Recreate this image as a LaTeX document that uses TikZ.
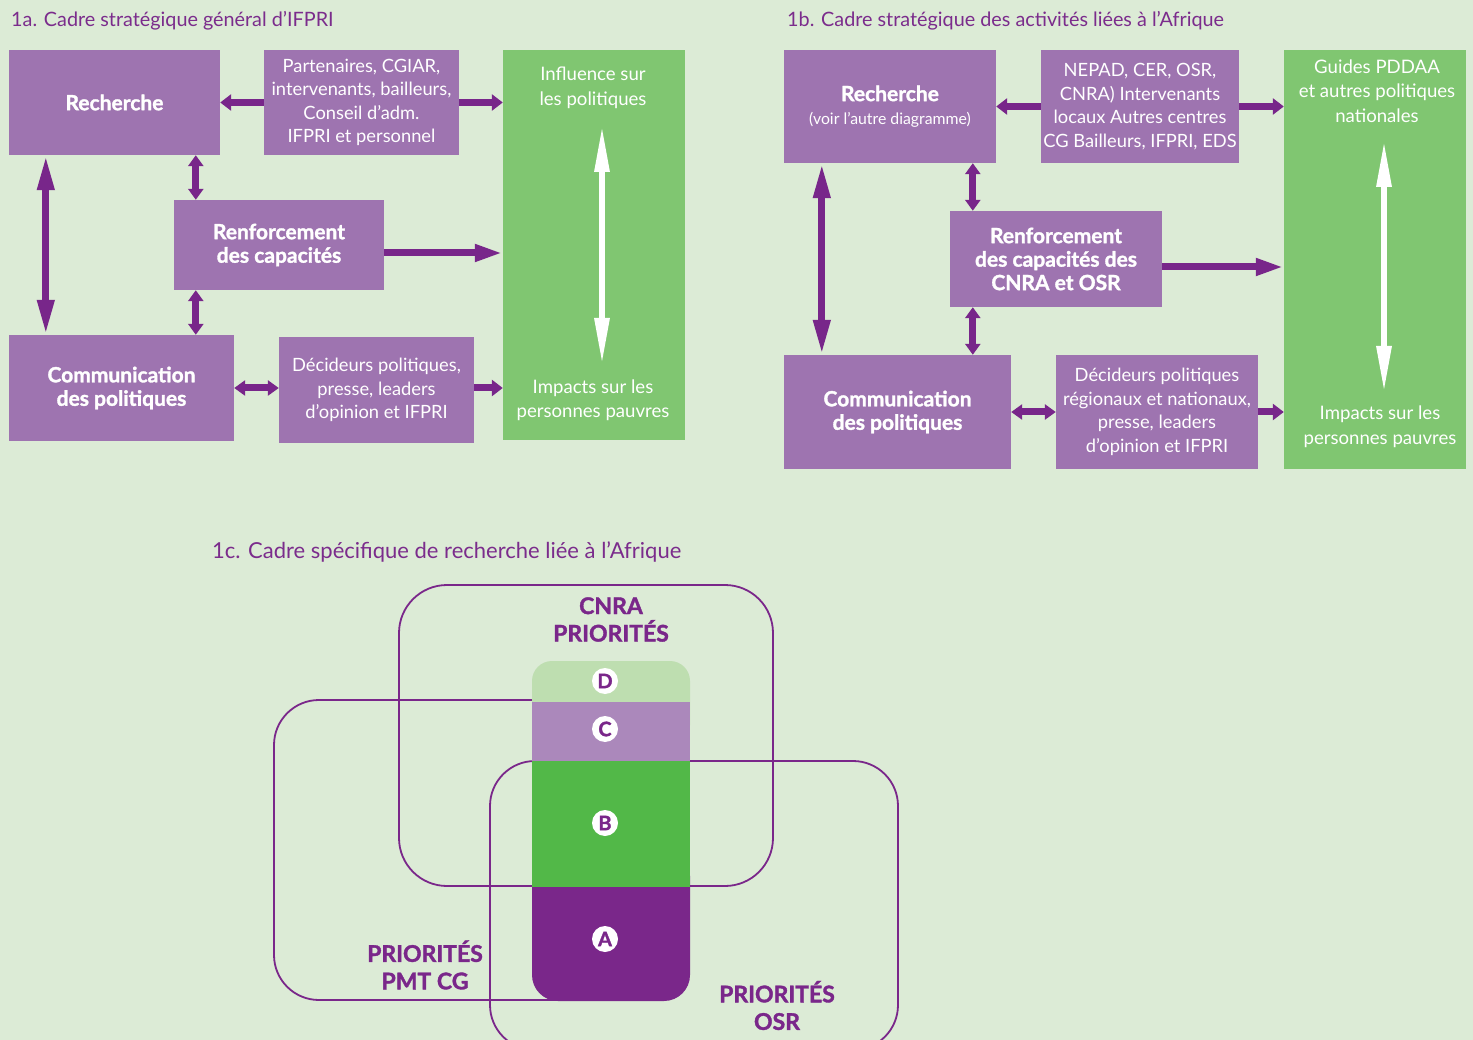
\documentclass[tikz,border=0pt]{standalone}
\usepackage{fontspec}
\setmainfont{Lato}[BoldFeatures={FakeBold=1.5}]
\usetikzlibrary{arrows.meta}
\definecolor{bg}{RGB}{220,235,214}
\definecolor{boxp}{RGB}{158,116,176}
\definecolor{boxg}{RGB}{128,198,113}
\definecolor{arrp}{RGB}{120,38,138}
\definecolor{titp}{RGB}{123,44,140}
\definecolor{cD}{RGB}{190,222,176}
\definecolor{cC}{RGB}{171,136,187}
\definecolor{cB}{RGB}{82,184,72}
\definecolor{cA}{RGB}{122,39,138}
\tikzset{
 pbox/.style={fill=boxp, inner sep=0pt, text=white, align=center, font=\fontsize{18.3}{23.5}\selectfont},
 gbox/.style={fill=boxg, inner sep=0pt},
 gtxt/.style={text=white, align=center, inner sep=0pt, font=\fontsize{18.6}{24.5}\selectfont},
 ttl/.style={anchor=west, text=titp, inner sep=0pt, font=\fontsize{19.8}{22}\selectfont},
 lbl/.style={text=cA, align=center, inner sep=0pt, font=\bfseries\fontsize{23}{27.5}\selectfont},
 circ/.style={circle, fill=white, text=cA, inner sep=0pt, minimum size=26pt, font=\bfseries\fontsize{20}{20}\selectfont},
 arr/.style={draw=arrp, line width=7pt, -{Triangle[length=11pt,width=16pt]}},
 arrL/.style={draw=arrp, line width=7pt, -{Triangle[length=28pt,width=16pt]}},
 darr/.style={draw=arrp, line width=7pt, {Triangle[length=11pt,width=15pt]}-{Triangle[length=11pt,width=15pt]}},
 darrL/.style={draw=arrp, line width=7pt, {Triangle[length=35pt,width=16pt]}-{Triangle[length=35pt,width=16pt]}},
 warr/.style={draw=white, line width=6pt, {Triangle[length=47pt,width=14pt]}-{Triangle[length=47pt,width=14pt]}},
 vline/.style={draw=cA, line width=1.8pt},
}
\newcommand{\bfl}{\bfseries\fontsize{21}{24.5}\selectfont}
\begin{document}
\begin{tikzpicture}[x=1pt,y=-1pt]
\useasboundingbox (0,0) rectangle (1473,1040);
\fill[bg] (0,0) rectangle (1473,1040);
\clip (0,0) rectangle (1473,1040);

% ---------- 1a ----------
\node[ttl] (tA) at (11,21) {1a. Cadre stratégique général d’IFPRI};
\node[pbox, minimum width=211pt, minimum height=105pt] (rechA) at (114.5,102.5) {\bfl Recherche};
\node[pbox, minimum width=195pt, minimum height=105pt] (partA) at (361.5,102.5) {Partenaires, CGIAR,\\intervenants, bailleurs,\\Conseil d’adm.\\IFPRI et personnel};
\node[gbox, minimum width=182pt, minimum height=390pt] (greenA) at (594,245) {};
\node[pbox, minimum width=210pt, minimum height=90pt] (renfA) at (279,245) {\bfl Renforcement\\\bfl des capacités};
\node[pbox, minimum width=225pt, minimum height=106pt] (commA) at (121.5,388) {\bfl Communication\\\bfl des politiques};
\node[pbox, minimum width=195pt, minimum height=106pt] (decA) at (376.5,390) {Décideurs politiques,\\presse, leaders\\d’opinion et IFPRI};
\node[gtxt] (inflA) at (593,88) {Influence sur\\les politiques};
\node[gtxt] (impA) at (593,400) {Impacts sur les\\personnes pauvres};
\coordinate (waA1) at (602,125);
\coordinate (waA2) at (602,365);
\draw[warr] (waA1) -- (waA2);

\coordinate (rAo) at ([yshift=-8pt]renfA.east);
\draw[arr] (partA.west) -- (rechA.east |- partA.west);
\draw[arr] (partA.east) -- (greenA.west |- partA.east);
\draw[darrL] ([xshift=37pt]rechA.south west) -- ([xshift=37pt]rechA.south west |- commA.north);
\draw[darr] ([xshift=22pt]renfA.north west |- rechA.south) -- ([xshift=22pt]renfA.north west);
\draw[darr] ([xshift=22pt]renfA.south west) -- ([xshift=22pt]renfA.south west |- commA.north);
\draw[arrL] (rAo) -- (greenA.west |- rAo);
\draw[darr] (commA.east) -- (decA.west |- commA.east);
\draw[arr] (decA.east |- commA.east) -- (greenA.west |- commA.east);

% ---------- 1b ----------
\node[ttl] (tB) at (787,21) {1b. Cadre stratégique des activités liées à l’Afrique};
\node[pbox, minimum width=212pt, minimum height=113pt] (rechB) at (890,106.5) {\bfl Recherche\\{\fontsize{15.8}{20}\selectfont (voir l’autre diagramme)}};
\node[pbox, minimum width=198pt, minimum height=113pt] (nepB) at (1140,106.5) {NEPAD, CER, OSR,\\CNRA) Intervenants\\locaux Autres centres\\CG Bailleurs, IFPRI, EDS};
\node[gbox, minimum width=182pt, minimum height=419pt] (greenB) at (1375,259.5) {};
\node[pbox, minimum width=212pt, minimum height=96pt] (renfB) at (1056,259) {\bfl Renforcement\\\bfl des capacités des\\\bfl CNRA et OSR};
\node[pbox, minimum width=227pt, minimum height=114pt] (commB) at (897.5,412) {\bfl Communication\\\bfl des politiques};
\node[pbox, minimum width=202pt, minimum height=114pt] (decB) at (1157,412) {Décideurs politiques\\régionaux et nationaux,\\presse, leaders\\d’opinion et IFPRI};
\node[gtxt] (guidB) at (1377,91) {Guides PDDAA\\et autres politiques\\nationales};
\node[gtxt] (impB) at (1380,426.5) {Impacts sur les\\personnes pauvres};
\coordinate (waB1) at (1384,140);
\coordinate (waB2) at (1384,393);
\draw[warr] (waB1) -- (waB2);

\coordinate (rBo) at ([yshift=-8pt]renfB.east);
\draw[arr] (nepB.west) -- (rechB.east |- nepB.west);
\draw[arr] (nepB.east) -- (greenB.west |- nepB.east);
\draw[darrL] ([xshift=38pt]rechB.south west) -- ([xshift=38pt]rechB.south west |- commB.north);
\draw[darr] ([xshift=23pt]renfB.north west |- rechB.south) -- ([xshift=23pt]renfB.north west);
\draw[darr] ([xshift=23pt]renfB.south west) -- ([xshift=23pt]renfB.south west |- commB.north);
\draw[arrL] (rBo) -- (greenB.west |- rBo);
\draw[darr] (commB.east) -- (decB.west |- commB.east);
\draw[arr] (decB.east |- commB.east) -- (greenB.west |- commB.east);

% ---------- 1c ----------
\node[ttl, font=\fontsize{22}{24}\selectfont] (tC) at (212,552) {1c. Cadre spécifique de recherche liée à l’Afrique};
\draw[vline, rounded corners=48pt] (399,585) rectangle (773,886);
\draw[vline, rounded corners=45pt] (274,700) rectangle (660,1000);
\draw[vline, rounded corners=45pt] (490,761) rectangle (898,1050);

\fill[cD, rounded corners=20pt] (532,661) rectangle (690,745);
\fill[cC] (532,702) rectangle (690,761.5);
\fill[cA, rounded corners=26pt] (532,850) rectangle (690,1001);
\fill[cB] (532,761) rectangle (690,886.5);

\node[circ] (lD) at (605,681) {D};
\node[circ] (lC) at (605,729) {C};
\node[circ] (lB) at (605,823) {B};
\node[circ] (lA) at (605,939) {A};

\node[lbl] (cnra) at (611,619.5) {CNRA\\PRIORITÉS};
\node[lbl] (pmt) at (425,965) {PRIORITÉS\\PMT CG};
\node[lbl] (osr) at (777,1005.5) {PRIORITÉS\\OSR};
\end{tikzpicture}
\end{document}
